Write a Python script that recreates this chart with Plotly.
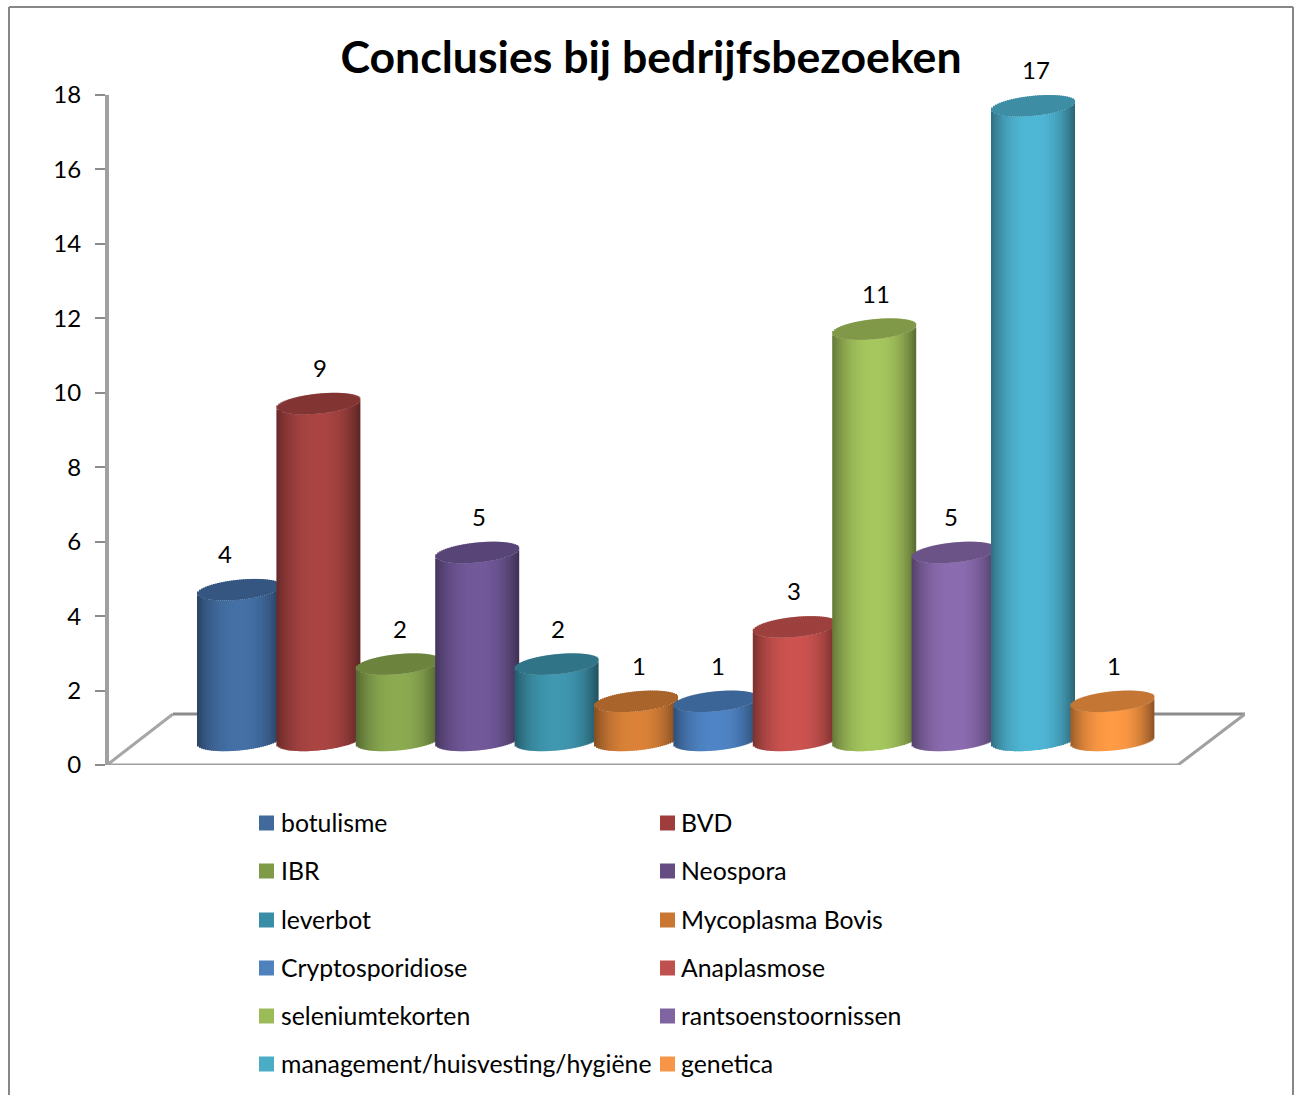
import math
import plotly.graph_objects as go

CATEGORIES = ["botulisme", "BVD", "IBR", "Neospora", "leverbot", "Mycoplasma Bovis",
              "Cryptosporidiose", "Anaplasmose", "seleniumtekorten", "rantsoenstoornissen",
              "management/huisvesting/hygiëne", "genetica"]
VALUES = [4, 9, 2, 5, 2, 1, 1, 3, 11, 5, 17, 1]
LEGEND_COLORS = ["#41699C", "#9E3D3C", "#7F9B48", "#654D84", "#3A8DA6", "#C97733",
                 "#4F81BD", "#C0504D", "#9BBB59", "#8064A2", "#4BACC6", "#F79646"]
BODY_COLORS = ["#4470A6", "#AA4543", "#8CAB51", "#72599A", "#3F97B0", "#DB8238",
               "#4F85C6", "#CC5350", "#A6C75E", "#8B6CB0", "#4FB7D6", "#FF9A45"]
TITLE = "Conclusies bij bedrijfsbezoeken"
LABEL_DX = [-14, 2, 2, 2, 1, 3, 3, -1, 2, -3, 3, 2]

W, H = 1297, 1095
PX_X0, PX_X1, PX_Y0, PX_Y1 = 109, 1245, 765, 95
YMAX = 18
C0, STEP, HALF = 239, 79.4, 42
PX_PER_UNIT = (PX_Y0 - PX_Y1) / YMAX
N = 42
BOTTOM, TOP, ELL_B, TILT = 0.66, 0.71, 10 / PX_PER_UNIT, 4 / PX_PER_UNIT
XMIN, XMAX = (PX_X0 - C0) / STEP, (PX_X1 - C0) / STEP
HW = HALF / STEP
FONT = "Lato"
TXT = "#000000"
GREY = "#8C8C8C"

def px(x): return x / W
def py(y): return 1 - y / H

def scale(color, f):
    r, g, b = (int(color[i:i + 2], 16) for i in (1, 3, 5))
    return f"rgb({min(255, r * f):.0f},{min(255, g * f):.0f},{min(255, b * f):.0f})"

def shade(u):
    return 1 - (0.40 if u < 0 else 0.47) * abs(u) ** 2.4

fig = go.Figure()

for i, (name, v, col) in enumerate(zip(CATEGORIES, VALUES, BODY_COLORS)):
    xs, offs, widths, bases, ys, cols = [], [], [], [], [], []
    strip = 2 * HW / N
    # walls first, then the cap, so the cap is never overdrawn
    for s in range(N):
        u = -1 + (2 * s + 1) / N
        half = ELL_B * math.sqrt(1 - u * u)
        b_low = BOTTOM + TILT * u - half
        c_mid = v + TOP + TILT * u
        xs.append(i); offs.append(HW * (-1 + 2 * s / N))
        widths.append(strip * (1.5 if s < N - 1 else 1))
        bases.append(b_low); ys.append(c_mid - half - b_low); cols.append(scale(col, shade(u)))
    for s in range(N):
        u = -1 + (2 * s + 1) / N
        half = ELL_B * math.sqrt(1 - u * u)
        c_mid = v + TOP + TILT * u
        xs.append(i); offs.append(HW * (-1 + 2 * s / N))
        widths.append(strip * (1.5 if s < N - 1 else 1))
        bases.append(c_mid - half); ys.append(2 * half); cols.append(scale(col, 0.77))
    fig.add_bar(x=xs, y=ys, base=bases, offset=offs, width=widths, name=name, opacity=1,
                marker=dict(color=cols, opacity=1, line=dict(width=0)), showlegend=False, hoverinfo="skip")

annotations = []
for i, (v, ldx) in enumerate(zip(VALUES, LABEL_DX)):
    # paper-referenced in y: the label of 17 sits above the top of the axis range
    annotations.append(dict(xref="x", yref="paper", x=i + ldx / STEP,
                            y=py(PX_Y0 - (v + 1.68) * PX_PER_UNIT), text=str(v), showarrow=False,
                            xanchor="center", yanchor="middle", font=dict(family=FONT, size=24, color=TXT)))

shapes = []
# outer frame
shapes.append(dict(type="line", xref="paper", yref="paper", x0=px(9), x1=px(9), y0=py(7), y1=py(H + 5),
                   line=dict(color="#878787", width=2)))
shapes.append(dict(type="line", xref="paper", yref="paper", x0=px(1293), x1=px(1293), y0=py(7), y1=py(H + 5),
                   line=dict(color="#878787", width=2)))
shapes.append(dict(type="line", xref="paper", yref="paper", x0=px(9), x1=px(1293), y0=py(7), y1=py(7),
                   line=dict(color="#878787", width=2)))
# floor
def dx(p): return (p - C0) / STEP
def dy(p): return (PX_Y0 - p) / PX_PER_UNIT
floor = [((107, 765), (173, 714), "#A6A6A6", 3), ((173, 714), (1245, 714), "#8C8C8C", 3),
         ((1245, 714), (1178, 765), "#A0A0A0", 3), ((1178, 765), (107, 765), "#A0A0A0", 3)]
for a, b, c, w in floor:
    shapes.append(dict(type="line", xref="x", yref="y", layer="below", x0=dx(a[0]), y0=dy(a[1]),
                       x1=dx(b[0]), y1=dy(b[1]), line=dict(color=c, width=w)))

LEG_ROWS = [823, 871, 920, 968, 1016, 1064]
LEG_COLS = [259, 660]
for k, (name, col) in enumerate(zip(CATEGORIES, LEGEND_COLORS)):
    lx, ly = LEG_COLS[k % 2], LEG_ROWS[k // 2]
    shapes.append(dict(type="rect", xref="paper", yref="paper", x0=px(lx), x1=px(lx + 15),
                       y0=py(ly - 7.5), y1=py(ly + 7.5), fillcolor=col, line=dict(width=0)))
    annotations.append(dict(xref="paper", yref="paper", x=px(lx + 19.5), y=py(ly - 1), text=name, showarrow=False,
                            xanchor="left", yanchor="middle", font=dict(family=FONT, size=24.8, color=TXT)))

fig.update_layout(
    template="none",
    width=W, height=H, margin=dict(l=0, r=0, t=0, b=0, pad=0), autosize=False,
    paper_bgcolor="white", plot_bgcolor="white", barmode="overlay",
    title=dict(text=f"<b>{TITLE}</b>", x=px(651), y=py(57), xanchor="center", yanchor="middle",
               font=dict(family=FONT, size=44.6, color=TXT)),
    xaxis=dict(domain=[px(PX_X0), px(PX_X1)], range=[XMIN, XMAX], visible=False, automargin=False),
    yaxis=dict(domain=[py(PX_Y0), py(PX_Y1)], range=[0, YMAX], tickmode="array", automargin=False,
               tickvals=list(range(0, 19, 2)), ticks="outside", ticklen=10, tickwidth=2, tickcolor=GREY,
               showgrid=False, zeroline=False, showline=True, linecolor="#A0A0A0", linewidth=4,
               ticklabelstandoff=9, tickfont=dict(family=FONT, size=24, color=TXT)),
    shapes=shapes, annotations=annotations, showlegend=False,
)
fig.write_html("out.html", config={"displayModeBar": False}, post_script="document.body.style.margin='0';")
